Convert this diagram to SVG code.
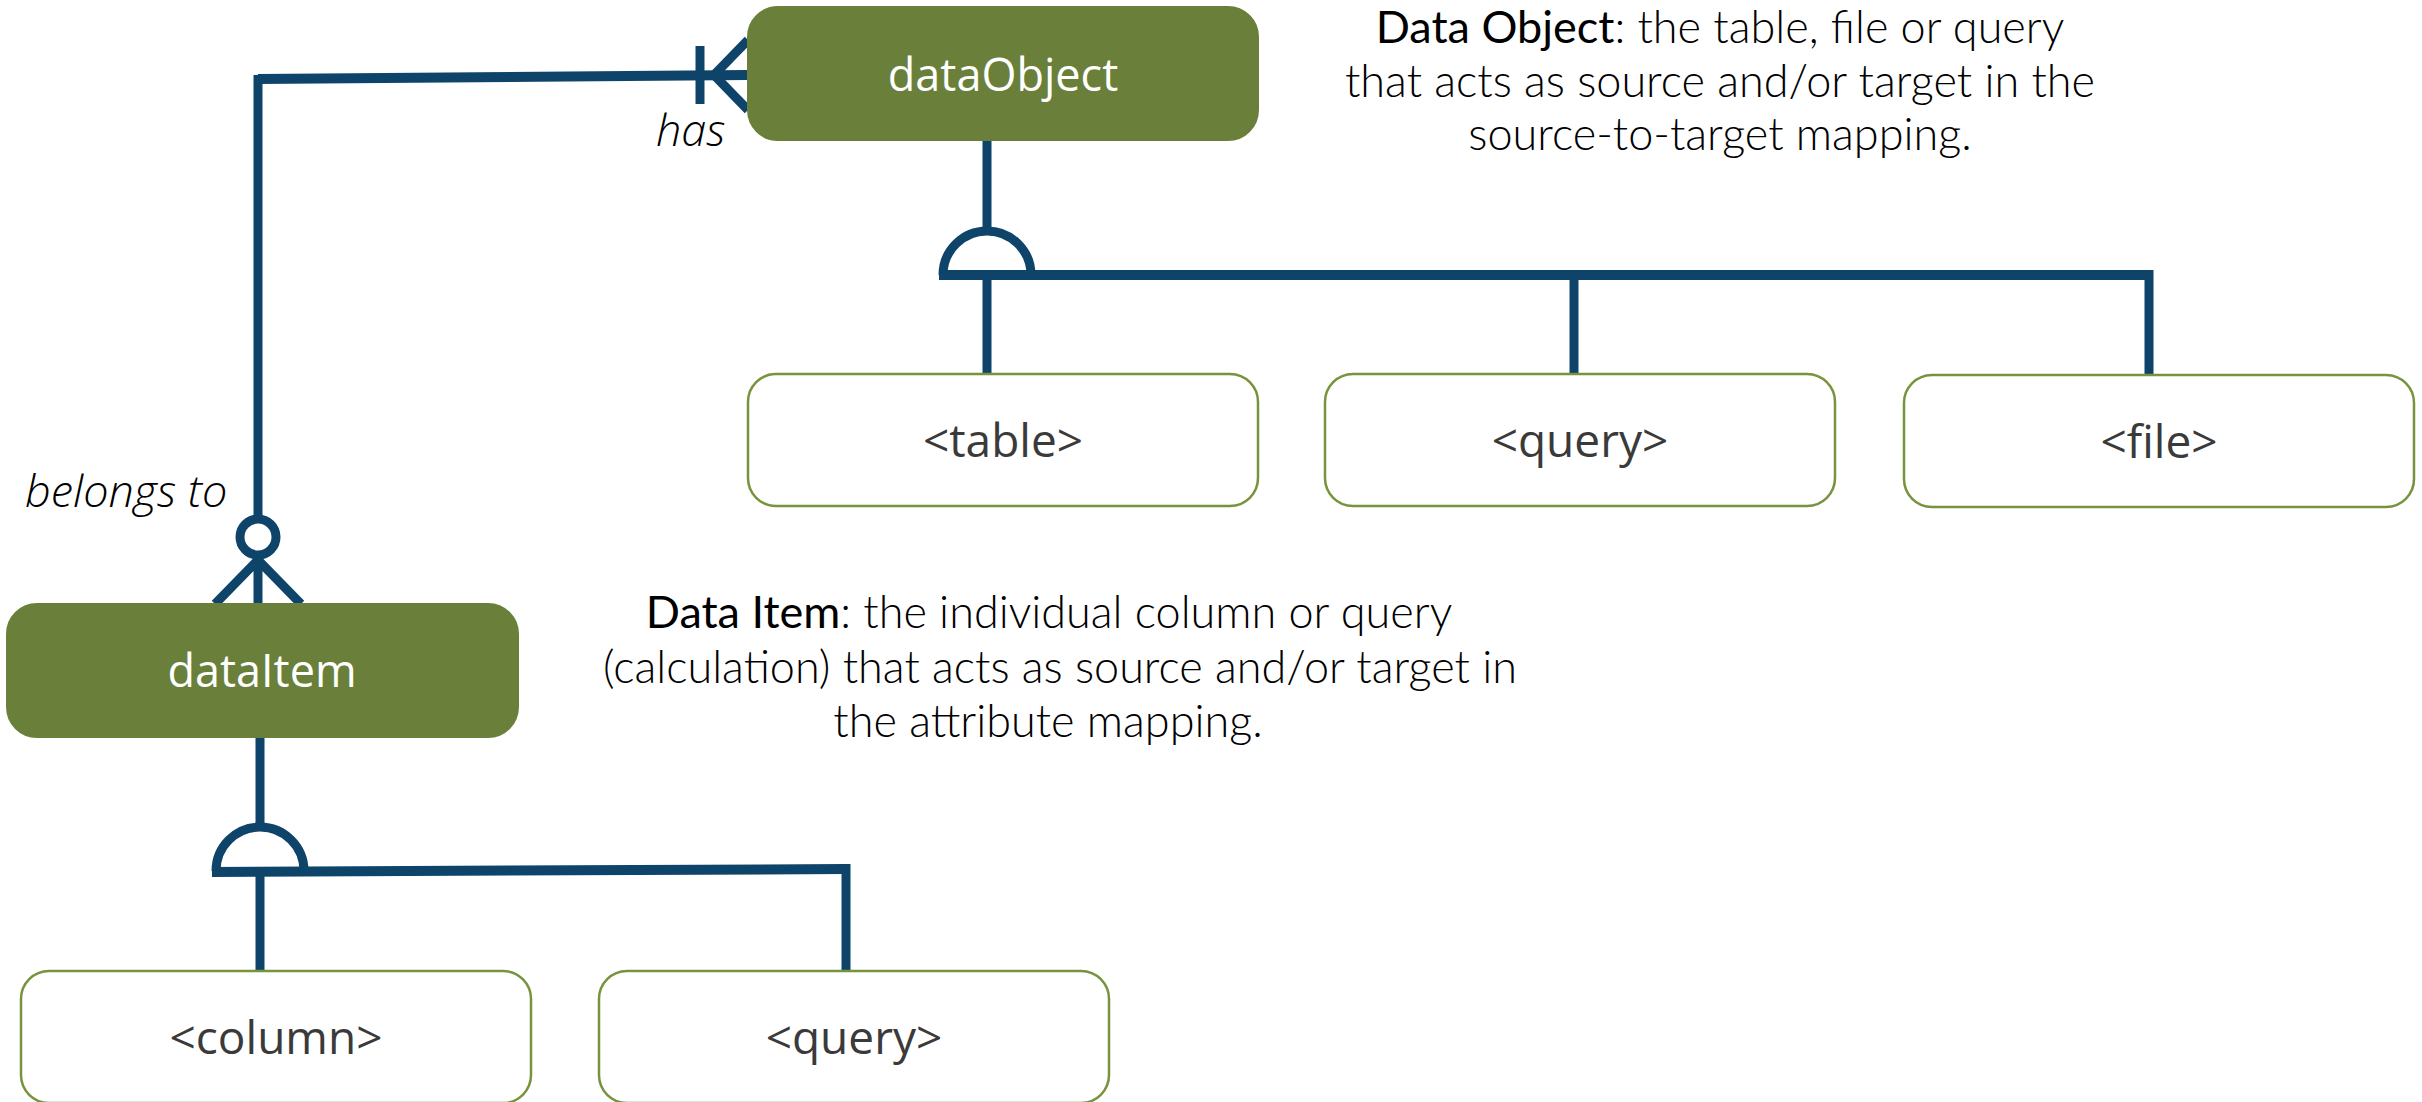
<svg xmlns="http://www.w3.org/2000/svg" width="2422" height="1102" viewBox="0 0 2422 1102">
<style>
.ent{fill:#6A803A;stroke:#6A803A;stroke-width:2}
.sub{fill:#FFFFFF;stroke:#77933C;stroke-width:2.5}
.elab{font-family:"Open Sans","Noto Sans",sans-serif;font-size:45px;fill:#FFFFFF;text-anchor:middle}
.slab{font-family:"Open Sans","Noto Sans",sans-serif;font-size:46px;fill:#3A3A3A;text-anchor:middle}
.desc{font-family:Lato,"Open Sans",sans-serif;font-size:45px;font-weight:300;fill:#000000;text-anchor:middle}
.desc .b{font-weight:400}
.rel{font-family:"Open Sans","Noto Sans",sans-serif;font-size:45px;font-weight:300;font-style:italic;fill:#000000}
.ln{fill:none;stroke:#0E4469;stroke-width:9}
.lnh{fill:none;stroke:#0E4469;stroke-width:10}
</style>
<g id="connectors">
<path class="lnh" d="M748,75 L258,79"/>
<path class="ln" d="M258,75 L258,519"/>
<path class="ln" d="M700,46 L700,104"/>
<path class="ln" d="M714,75 L748,40 M714,75 L748,110"/>
<circle class="ln" cx="258" cy="537" r="18" stroke-width="8"/>
<path class="ln" d="M258,555 L258,604 M258,560 L215,604 M258,560 L301,604"/>
<path class="ln" d="M987,140 L987,231"/>
<path class="ln" d="M943,275 A44,44 0 0 1 1031,275"/>
<path class="lnh" d="M939,275 L2153,275"/>
<path class="ln" d="M987,275 L987,374"/>
<path class="ln" d="M1574,275 L1574,374"/>
<path class="ln" d="M2149,270 L2149,375"/>
<path class="ln" d="M260,737 L260,827"/>
<path class="ln" d="M216,871 A44,44 0 0 1 304,871"/>
<path class="lnh" d="M212,872 L846,869"/>
<path class="ln" d="M846,864 L846,971"/>
<path class="ln" d="M260,871 L260,971"/>
</g>
<g id="dataObject">
<rect class="ent" x="748" y="7" width="510" height="133" rx="30"/>
<text class="elab" x="1003" y="91">dataObject</text>
</g>
<g id="dataItem">
<rect class="ent" x="7" y="604" width="511" height="133" rx="30"/>
<text class="elab" x="262" y="687">dataItem</text>
</g>
<g id="table">
<rect class="sub" x="748" y="374" width="510" height="132" rx="28"/>
<text class="slab" x="1003" y="457">&lt;table&gt;</text>
</g>
<g id="query1">
<rect class="sub" x="1325" y="374" width="510" height="132" rx="28"/>
<text class="slab" x="1580" y="457">&lt;query&gt;</text>
</g>
<g id="file">
<rect class="sub" x="1904" y="375" width="510" height="132" rx="28"/>
<text class="slab" x="2159" y="458">&lt;file&gt;</text>
</g>
<g id="column">
<rect class="sub" x="21" y="971" width="510" height="132" rx="28"/>
<text class="slab" x="276" y="1054">&lt;column&gt;</text>
</g>
<g id="query2">
<rect class="sub" x="599" y="971" width="510" height="132" rx="28"/>
<text class="slab" x="854" y="1054">&lt;query&gt;</text>
</g>
<g id="labels">
<text class="rel" x="656" y="146">has</text>
<text class="rel" x="25" y="507">belongs to</text>
<text class="desc"><tspan x="1720" y="43"><tspan class="b">Data Object</tspan>: the table, file or query</tspan><tspan x="1720" y="97">that acts as source and/or target in the</tspan><tspan x="1720" y="150">source-to-target mapping.</tspan></text>
<text class="desc"><tspan x="1049" y="628"><tspan class="b">Data Item</tspan>: the individual column or query</tspan><tspan x="1060" y="683">(calculation) that acts as source and/or target in</tspan><tspan x="1048" y="737">the attribute mapping.</tspan></text>
</g>
</svg>
